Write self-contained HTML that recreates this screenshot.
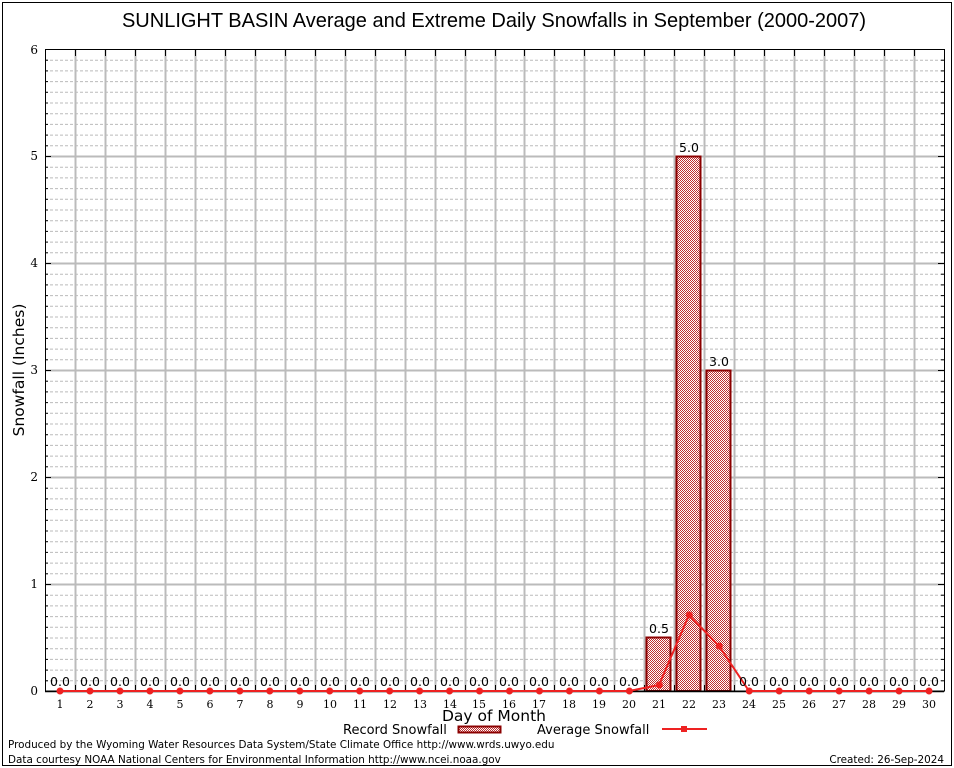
<!DOCTYPE html>
<html><head><meta charset="utf-8"><style>
html,body{margin:0;padding:0;background:#fff}
svg{display:block}
.t{font-family:"DejaVu Sans","Liberation Sans",sans-serif;font-size:12px;fill:#000}
.s{font-family:"DejaVu Serif","Liberation Serif",serif;font-size:12px;fill:#000}
</style></head><body>
<svg id="c" width="954" height="768" xmlns="http://www.w3.org/2000/svg">
<defs>
<pattern id="chk" width="2" height="2" patternUnits="userSpaceOnUse">
<rect width="2" height="2" fill="#fff"/><rect width="1" height="1" fill="#c03030"/><rect x="1" y="1" width="1" height="1" fill="#c03030"/>
</pattern>
</defs>
<rect x="2.5" y="2.5" width="949" height="763" fill="none" stroke="#000"/>
<text x="494" y="27" text-anchor="middle" style="font-family:'Liberation Sans',sans-serif;font-size:20px">SUNLIGHT BASIN Average and Extreme Daily Snowfalls in September (2000-2007)</text>
<g id="grid"></g>
<rect x="646.5" y="637.5" width="24" height="53.5" fill="url(#chk)" stroke="#8b0000" stroke-width="2"/>
<rect x="676.5" y="156.5" width="24" height="534.5" fill="url(#chk)" stroke="#8b0000" stroke-width="2"/>
<rect x="706.5" y="370.5" width="24" height="320.5" fill="url(#chk)" stroke="#8b0000" stroke-width="2"/>
<rect x="45.5" y="49.5" width="899" height="641.5" fill="none" stroke="#000"/>
<g id="ticks"></g>
<polyline fill="none" stroke="#ee2222" stroke-width="2" points="60,691 629,691 659,685 689,615 719,646 749,691 929,691"/>
<g id="dots" fill="#ee2222"></g>
<g class="s" text-anchor="end">
<text x="38" y="695">0</text><text x="38" y="588">1</text><text x="38" y="481">2</text><text x="38" y="374">3</text><text x="38" y="267">4</text><text x="38" y="160">5</text><text x="38" y="54">6</text>
</g>
<g class="s" text-anchor="middle" style="font-size:11px">
<text x="60" y="708">1</text><text x="90" y="708">2</text><text x="120" y="708">3</text><text x="150" y="708">4</text><text x="180" y="708">5</text><text x="210" y="708">6</text><text x="240" y="708">7</text><text x="270" y="708">8</text><text x="300" y="708">9</text><text x="330" y="708">10</text><text x="360" y="708">11</text><text x="390" y="708">12</text><text x="420" y="708">13</text><text x="450" y="708">14</text><text x="479" y="708">15</text><text x="509" y="708">16</text><text x="539" y="708">17</text><text x="569" y="708">18</text><text x="599" y="708">19</text><text x="629" y="708">20</text><text x="659" y="708">21</text><text x="689" y="708">22</text><text x="719" y="708">23</text><text x="749" y="708">24</text><text x="779" y="708">25</text><text x="809" y="708">26</text><text x="839" y="708">27</text><text x="869" y="708">28</text><text x="899" y="708">29</text><text x="929" y="708">30</text>
</g>
<g class="t" text-anchor="middle" style="font-size:12.5px">
<text x="60" y="686">0.0</text><text x="90" y="686">0.0</text><text x="120" y="686">0.0</text><text x="150" y="686">0.0</text><text x="180" y="686">0.0</text><text x="210" y="686">0.0</text><text x="240" y="686">0.0</text><text x="270" y="686">0.0</text><text x="300" y="686">0.0</text><text x="330" y="686">0.0</text><text x="360" y="686">0.0</text><text x="390" y="686">0.0</text><text x="420" y="686">0.0</text><text x="450" y="686">0.0</text><text x="479" y="686">0.0</text><text x="509" y="686">0.0</text><text x="539" y="686">0.0</text><text x="569" y="686">0.0</text><text x="599" y="686">0.0</text><text x="629" y="686">0.0</text>
<text x="659" y="633">0.5</text><text x="689" y="152">5.0</text><text x="719" y="366">3.0</text>
<text x="749" y="686">0.0</text><text x="779" y="686">0.0</text><text x="809" y="686">0.0</text><text x="839" y="686">0.0</text><text x="869" y="686">0.0</text><text x="899" y="686">0.0</text><text x="929" y="686">0.0</text>
</g>
<text class="t" x="494" y="721" text-anchor="middle" style="font-size:15.5px">Day of Month</text>
<text class="t" transform="translate(24,370) rotate(-90)" text-anchor="middle" style="font-size:15.5px">Snowfall (Inches)</text>
<text class="t" x="343" y="734" style="font-size:13px">Record Snowfall</text>
<rect x="458.5" y="726.5" width="42" height="6" fill="url(#chk)" stroke="#8b0000" stroke-width="2"/>
<text class="t" x="537" y="734" style="font-size:13px">Average Snowfall</text>
<line x1="662" y1="729" x2="707" y2="729" stroke="#ee2222" stroke-width="2"/>
<rect x="681" y="726" width="6" height="6" fill="#ee2222"/>
<text class="t" x="8" y="748" style="font-size:10.4px">Produced by the Wyoming Water Resources Data System/State Climate Office http://www.wrds.uwyo.edu</text>
<text class="t" x="8" y="763" style="font-size:10.4px">Data courtesy NOAA National Centers for Environmental Information http://www.ncei.noaa.gov</text>
<text class="t" x="944" y="763" text-anchor="end" style="font-size:10.4px">Created:  26-Sep-2024</text>
</svg>
<script>
var ns="http://www.w3.org/2000/svg";
function L(g,x1,y1,x2,y2,s,w,d){var l=document.createElementNS(ns,"line");l.setAttribute("x1",x1);l.setAttribute("y1",y1);l.setAttribute("x2",x2);l.setAttribute("y2",y2);l.setAttribute("stroke",s);l.setAttribute("stroke-width",w);if(d)l.setAttribute("stroke-dasharray",d);document.getElementById(g).appendChild(l);}
for(var i=1;i<60;i++){if(i%10==0)continue;var y=691-i*107/10+0.5;L("grid",45,y,944,y,"#bbb",1,"3,2");}
for(var i=1;i<6;i++){var y=691-i*107+0.5;L("grid",45,y,944,y,"#bbb",2);L("ticks",45,y,51,y,"#000",1);L("ticks",938,y,944,y,"#000",1);}
for(var i=1;i<60;i++){if(i%10==0)continue;var y=691-i*10.7+0.5;L("ticks",45,y,48,y,"#000",1);L("ticks",941,y,944,y,"#000",1);}
for(var k=1;k<30;k++){var x=Math.round(45+29.967*k)+0.5;L("grid",x,50,x,691,"#bbb",2);L("ticks",x,50,x,56,"#000",1);L("ticks",x,685,x,691,"#000",1);}
L("ticks",45,691.5,944,691.5,"#000",1.5);
for(var n=1;n<=30;n++){var v;if(n==21)v=685;else if(n==22)v=615;else if(n==23)v=646;else v=691;var x=60+29.967*(n-1);var c=document.createElementNS(ns,"circle");c.setAttribute("cx",x);c.setAttribute("cy",v);c.setAttribute("r",3.5);document.getElementById("dots").appendChild(c);}
</script>
</body></html>
